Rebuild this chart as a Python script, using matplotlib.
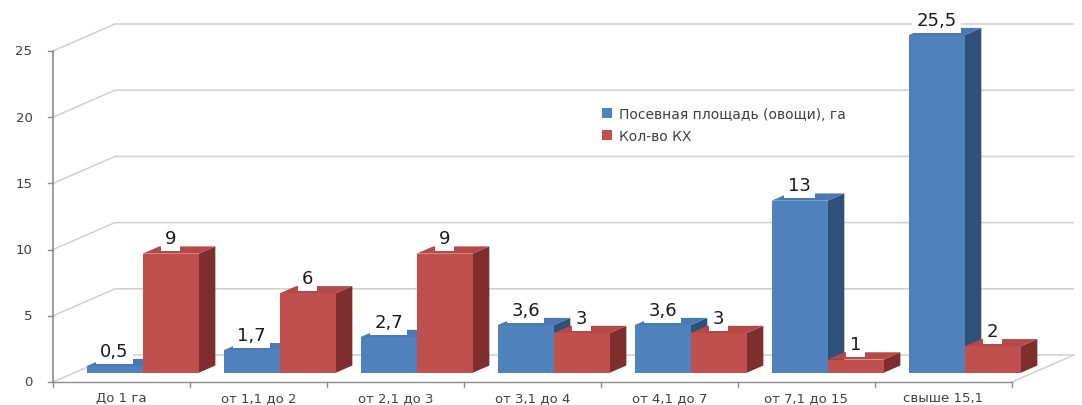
import matplotlib
matplotlib.use("Agg")
import matplotlib.pyplot as plt
from matplotlib.patches import Polygon, Patch

# --- data -------------------------------------------------------------
categories = ["До 1 га", "от 1,1 до 2", "от 2,1 до 3", "от 3,1 до 4",
              "от 4,1 до 7", "от 7,1 до 15", "свыше 15,1"]
area = [0.5, 1.7, 2.7, 3.6, 3.6, 13, 25.5]      # Посевная площадь (овощи), га
farms = [9, 6, 9, 3, 3, 1, 2]                    # Кол-во КХ
series_names = ["Посевная площадь (овощи), га", "Кол-во КХ"]
y_ticks = [0, 5, 10, 15, 20, 25]

# --- styling ----------------------------------------------------------
BLUE = ("#4F81BD", "#4A79B3", "#2F5078")   # front, top, side
RED = ("#C0504D", "#B44A47", "#7E2F2D")
GRID = "#D0D0D0"
AXIS = "#8C8C8C"
TEXT = "#404040"

W, H, DPI = 1082, 406, 100
fig = plt.figure(figsize=(W / DPI, H / DPI), dpi=DPI)
ax = fig.add_axes([0, 0, 1, 1])
ax.set_axis_off()

# data units: x in categories, y in values
px_x = 137.0          # pixels per category
px_y = 13.24          # pixels per value unit
x0_px, y0_px = 53, 383
ax.set_xlim(-x0_px / px_x, (W - x0_px) / px_x)
ax.set_ylim(-(H - y0_px) / px_y, y0_px / px_y)

n = len(categories)
DX, DY = 62 / px_x, 27 / px_y      # oblique depth of the floor/back wall
F0 = 0.34                          # depth at which bar fronts sit
BD = 0.27                          # bar depth as a fraction of full depth
BW = 0.409                         # bar width in category units

# gridlines: front edge -> back wall
for v in y_ticks:
    ax.plot([0, DX, n + DX], [v, v + DY, v + DY], color=GRID, lw=1.1,
            solid_capstyle="butt", zorder=1)
    ax.plot([-0.04, 0], [v, v], color=AXIS, lw=1, zorder=2)
    ax.text(-0.15, v, str(v), ha="right", va="center", fontsize=9.5,
            color=TEXT, family="DejaVu Sans")

# front axes and floor edges
ax.plot([0, 0], [0, y_ticks[-1]], color=AXIS, lw=1.2, zorder=2)
ax.plot([0, n], [0, 0], color=AXIS, lw=1.0, zorder=2)
ax.plot([n, n + DX], [0, DY], color=GRID, lw=1.1, zorder=1)
for i in range(n + 1):
    ax.plot([i, i], [0, -0.35], color=AXIS, lw=1, zorder=2)
for i, c in enumerate(categories):
    ax.text(i + 0.5, -1.2, c, ha="center", va="center", fontsize=9.5,
            color=TEXT, family="DejaVu Sans")


def bar3d(xl, value, colors, z):
    ox, oy = F0 * DX, F0 * DY
    bdx, bdy = BD * DX, BD * DY
    xl += ox
    xr = xl + BW
    base, top = oy, oy + value
    front_c, top_c, side_c = colors
    side = Polygon([(xr, base), (xr + bdx, base + bdy), (xr + bdx, top + bdy),
                    (xr, top)], closed=True, fc=side_c, ec="none", zorder=z)
    lid = Polygon([(xl, top), (xr, top), (xr + bdx, top + bdy),
                   (xl + bdx, top + bdy)], closed=True, fc=top_c, ec="none",
                  zorder=z)
    front = Polygon([(xl, base), (xr, base), (xr, top), (xl, top)],
                    closed=True, fc=front_c, ec="none", zorder=z)
    for p in (side, lid, front):
        ax.add_patch(p)
    return (xl + xr) / 2, top


def fmt(v):
    return (f"{v:g}").replace(".", ",")


labels = []
z = 3
for i in range(n):
    cx = i + 0.5
    for val, cols, xl in ((area[i], BLUE, cx - BW), (farms[i], RED, cx)):
        mx, top = bar3d(xl, val, cols, z)
        z += 1
        labels.append((mx, top + 1.15, fmt(val)))

for mx, y, s in labels:
    ax.text(mx, y, s, ha="center", va="center", fontsize=13, color="#1A1A1A",
            family="DejaVu Sans", zorder=50,
            bbox=dict(boxstyle="square,pad=0.22", fc="white", ec="none"))

handles = [Patch(fc=BLUE[0], ec="none", label=series_names[0]),
           Patch(fc=RED[0], ec="none", label=series_names[1])]
leg = fig.legend(handles=handles, loc="upper left",
                 bbox_to_anchor=(598 / W, 1 - 104 / H), frameon=True,
                 fontsize=10, handlelength=0.7, handleheight=0.7,
                 handletextpad=0.5, labelspacing=0.55, borderpad=0.3,
                 borderaxespad=0)
leg.get_frame().set_facecolor("white")
leg.get_frame().set_edgecolor("none")
for t in leg.get_texts():
    t.set_color(TEXT)
leg.set_zorder(40)

fig.savefig("out.png", dpi=DPI, facecolor="white")
